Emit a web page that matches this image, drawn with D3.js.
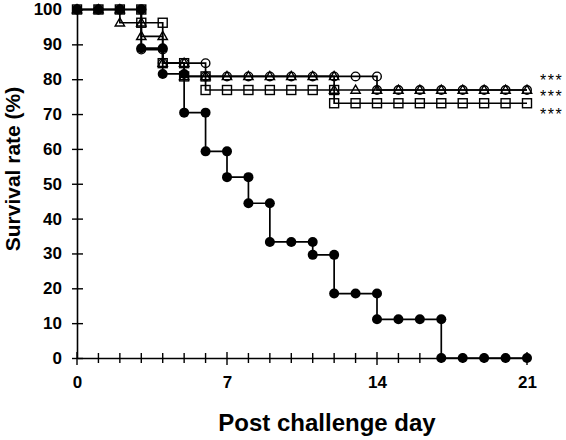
<!DOCTYPE html>
<html>
<head>
<meta charset="utf-8">
<script src="https://cdn.jsdelivr.net/npm/d3@7"></script>
<style>
  html, body { margin: 0; padding: 0; background: #fff; }
  svg { display: block; font-family: Arial, "Liberation Sans", sans-serif; }
</style>
</head>
<body>
<svg id="chart" width="566" height="440"></svg>
<script>
// ---- data ----
const days = d3.range(0, 22);
const controlFilled = [100,100,100,88.9,81.5,70.4,59.3,51.9,44.4,33.3,33.3,29.6,18.5,18.5,11.1,11.1,11.1,0,0,0,0,0];
const openCircle   = [100,100,100,88.5,84.6,84.6,80.8,80.8,80.8,80.8,80.8,80.8,80.8,80.8,76.9,76.9,76.9,76.9,76.9,76.9,76.9,76.9];
const openTriangle = [100,100,96.2,92.3,84.6,80.8,80.8,80.8,80.8,80.8,80.8,80.8,76.9,76.9,76.9,76.9,76.9,76.9,76.9,76.9,76.9,76.9];
const openSquare   = [100,100,100,96.2,84.6,80.8,76.9,76.9,76.9,76.9,76.9,76.9,73.1,73.1,73.1,73.1,73.1,73.1,73.1,73.1,73.1,73.1];
const yTicks = [0,10,20,30,40,50,60,70,80,90,100];
const xMajorTicks = [0,7,14,21];
const significance = ["***","***","***"];
const sigLevels = [80.8, 76.9, 73.1];

const svg = d3.select("#chart");
const x = d3.scaleLinear().domain([0, 21]).range([77, 527]);
const y = d3.scaleLinear().domain([0, 100]).range([358, 9.5]);

// ---- axes ----
const yAxis = svg.append("g").attr("transform", `translate(${x(0)},0)`)
  .call(d3.axisLeft(y).tickValues(yTicks).tickSize(0).tickPadding(15).tickFormat(d3.format("d")));
yAxis.select(".domain").attr("stroke", "#000").attr("stroke-width", 1.6);
yAxis.selectAll(".tick text").attr("font-size", 17).attr("font-weight", "bold").attr("fill", "#000")
  .attr("font-family", "Arial, 'Liberation Sans', sans-serif");
yAxis.selectAll(".tick").append("line").attr("x1", -5).attr("x2", 6).attr("stroke", "#000").attr("stroke-width", 1.4);

const xAxis = svg.append("g").attr("transform", `translate(0,${y(0)})`)
  .call(d3.axisBottom(x).tickValues(xMajorTicks).tickSize(0).tickPadding(18).tickFormat(d3.format("d")));
xAxis.select(".domain").attr("stroke", "#000").attr("stroke-width", 1.6);
xAxis.selectAll(".tick text").attr("font-size", 17).attr("font-weight", "bold").attr("fill", "#000")
  .attr("font-family", "Arial, 'Liberation Sans', sans-serif");
xAxis.selectAll(".minor").data(days).enter().append("line")
  .attr("x1", d => x(d)).attr("x2", d => x(d))
  .attr("y1", d => xMajorTicks.includes(d) ? -6 : -5)
  .attr("y2", d => xMajorTicks.includes(d) ? 7 : 5)
  .attr("stroke", "#000").attr("stroke-width", 1.4);

// ---- titles ----
svg.append("text").attr("x", 327).attr("y", 431).attr("text-anchor", "middle")
  .attr("font-size", 24).attr("font-weight", "bold").text("Post challenge day");
svg.append("text").attr("transform", "translate(20,169) rotate(-90)").attr("text-anchor", "middle")
  .attr("font-size", 21).attr("font-weight", "bold").text("Survival rate (%)");

// ---- step lines ----
function stepPath(vals) {
  let p = `M${x(0)},${y(vals[0])}`;
  for (let i = 1; i < vals.length; i++) {
    p += `L${x(days[i])},${y(vals[i-1])}L${x(days[i])},${y(vals[i])}`;
  }
  return p;
}
function markerPoints(vals) {
  const pts = [{d: 0, v: vals[0]}];
  for (let i = 1; i < vals.length; i++) {
    pts.push({d: days[i], v: vals[i-1]});
    if (vals[i] !== vals[i-1]) pts.push({d: days[i], v: vals[i]});
  }
  return pts;
}
const series = [
  {vals: openSquare, type: "square"},
  {vals: openTriangle, type: "triangle"},
  {vals: openCircle, type: "circle"},
  {vals: controlFilled, type: "filled"}
];
series.forEach(s => {
  svg.append("path").attr("d", stepPath(s.vals)).attr("fill", "none")
    .attr("stroke", "#000").attr("stroke-width", 1.7);
});
series.forEach(s => {
  const pts = markerPoints(s.vals);
  const g = svg.append("g");
  if (s.type === "square") {
    g.selectAll("rect").data(pts).enter().append("rect")
      .attr("x", p => x(p.d) - 4.5).attr("y", p => y(p.v) - 4.5)
      .attr("width", 9).attr("height", 9)
      .attr("fill", "none").attr("stroke", "#000").attr("stroke-width", 1.4);
  } else if (s.type === "triangle") {
    const tri = d3.symbol().type(d3.symbolTriangle).size(38);
    g.selectAll("path").data(pts).enter().append("path")
      .attr("d", tri).attr("transform", p => `translate(${x(p.d)},${y(p.v) + 0.5})`)
      .attr("fill", "none").attr("stroke", "#000").attr("stroke-width", 1.4);
  } else if (s.type === "circle") {
    g.selectAll("circle").data(pts).enter().append("circle")
      .attr("cx", p => x(p.d)).attr("cy", p => y(p.v)).attr("r", 4.3)
      .attr("fill", "none").attr("stroke", "#000").attr("stroke-width", 1.4);
  } else {
    g.selectAll("circle").data(pts).enter().append("circle")
      .attr("cx", p => x(p.d)).attr("cy", p => y(p.v)).attr("r", 5)
      .attr("fill", "#000");
  }
});

// ---- significance ----
svg.selectAll(".sig").data(significance).enter().append("text")
  .attr("x", 540).attr("y", (d, i) => [76.7, 93.3, 110.7][i] + 9)
  .attr("font-size", 16).attr("letter-spacing", 1.5).attr("fill", "#000").text(d => d);
</script>
</body>
</html>
